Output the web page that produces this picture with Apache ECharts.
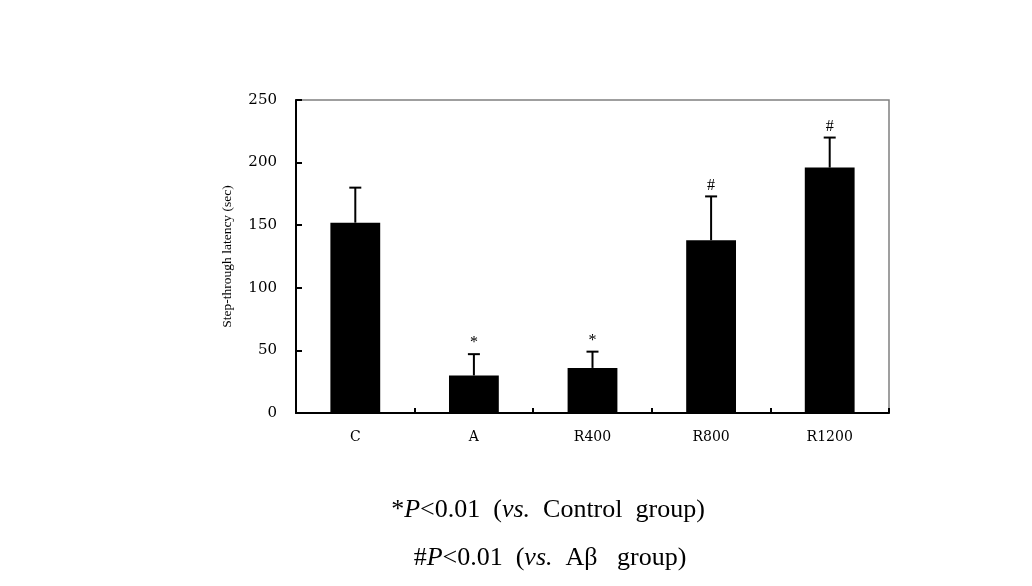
<!DOCTYPE html>
<html>
<head>
<meta charset="utf-8">
<script src="https://cdn.jsdelivr.net/npm/echarts@6/dist/echarts.min.js"></script>
<style>
  html, body { margin: 0; padding: 0; background: #fff; }
  #chart { width: 1032px; height: 586px; }
</style>
</head>
<body>
<div id="chart"></div>
<script>
// 组别、均值、误差、显著性标记
const categories = ["C", "A", "R400", "R800", "R1200"];
const means = [152, 30, 36, 138, 196];
const errors = [28, 17, 13, 35, 24];
const marks = ["", "*", "*", "#", "#"];
const yTicks = [0, 50, 100, 150, 200, 250];

const serif = "'Liberation Serif', 'DejaVu Serif', serif";
const wideSerif = "'DejaVu Serif', 'Liberation Serif', serif";
const myChart = echarts.init(document.getElementById("chart"));

const noteRich = {
  n: { fontFamily: serif, fontSize: 26, fontWeight: "normal", color: "#000" },
  i: { fontFamily: serif, fontSize: 26, fontWeight: "normal", fontStyle: "italic", color: "#000" }
};

const option = {
  animation: false,
  title: [
    {
      text: "{n|*}{i|P}{n|<0.01  (}{i|vs.}{n|  Control  group)}",
      left: 543,
      top: 492,
      textAlign: "center",
      textStyle: { fontWeight: "normal", rich: noteRich }
    },
    {
      text: "{n|#}{i|P}{n|<0.01  (}{i|vs.}{n|  Aβ   group)}",
      left: 545,
      top: 540,
      textAlign: "center",
      textStyle: { fontWeight: "normal", rich: noteRich }
    }
  ],
  grid: {
    left: 296,
    right: 143,
    top: 100,
    bottom: 173,
    show: true,
    borderColor: "#808080",
    borderWidth: 1.5
  },
  xAxis: {
    type: "category",
    data: categories,
    // 刻度在组别之间，朝内
    axisTick: { show: true, inside: true, length: 5, lineStyle: { color: "#000", width: 2 } },
    axisLine: { lineStyle: { color: "#000", width: 2 } },
    axisLabel: { color: "#000", fontFamily: wideSerif, fontSize: 14, margin: 17 }
  },
  yAxis: {
    type: "value",
    min: yTicks[0],
    max: yTicks[yTicks.length - 1],
    interval: 50,
    name: "Step-through latency (sec)",
    nameLocation: "middle",
    nameGap: 62,
    nameTextStyle: { color: "#000", fontFamily: serif, fontSize: 13.5 },
    axisLine: { show: true, lineStyle: { color: "#000", width: 2 } },
    axisTick: { show: true, inside: true, length: 6, lineStyle: { color: "#000", width: 2 } },
    axisLabel: { color: "#000", fontFamily: wideSerif, fontSize: 15, margin: 19 },
    splitLine: { show: false }
  },
  series: [
    {
      type: "bar",
      data: means,
      barWidth: "42%",
      itemStyle: { color: "#000" },
      z: 2
    },
    {
      // 误差线（只画上半部分）和显著性标记
      type: "custom",
      data: means.map((m, i) => [i, m, errors[i]]),
      z: 3,
      renderItem: function (params, api) {
        const x = api.value(0);
        const base = api.coord([x, api.value(1)]);
        const top = api.coord([x, api.value(1) + api.value(2)]);
        const half = 6;
        const children = [
          { type: "line", shape: { x1: base[0], y1: base[1], x2: top[0], y2: top[1] }, style: { stroke: "#000", lineWidth: 2 } },
          { type: "line", shape: { x1: top[0] - half, y1: top[1], x2: top[0] + half, y2: top[1] }, style: { stroke: "#000", lineWidth: 2 } }
        ];
        const mark = marks[params.dataIndex];
        if (mark) {
          children.push({
            type: "text",
            style: {
              text: mark,
              x: top[0],
              y: top[1] - 3,
              align: "center",
              verticalAlign: "bottom",
              fontFamily: serif,
              fontSize: 16,
              fill: "#000"
            }
          });
        }
        return { type: "group", children: children };
      }
    }
  ]
};

myChart.setOption(option);
</script>
</body>
</html>
